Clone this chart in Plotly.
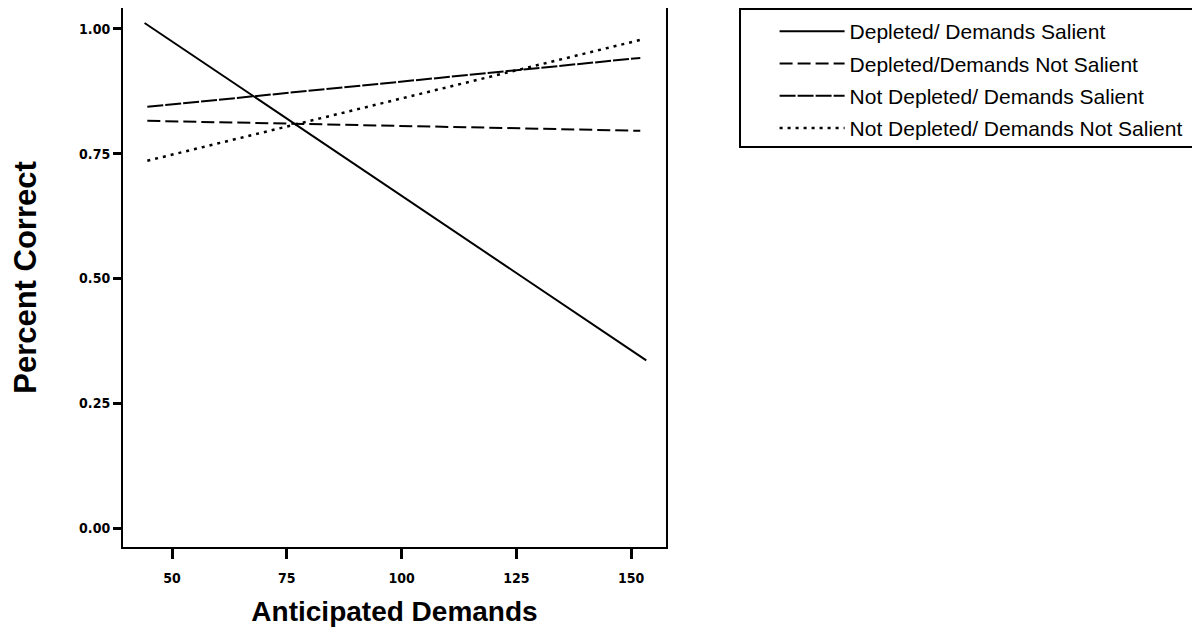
import plotly.graph_objects as go

# Data (fitted lines: endpoints)
series_names = [
    "Depleted/ Demands Salient",
    "Depleted/Demands Not Salient",
    "Not Depleted/ Demands Salient",
    "Not Depleted/ Demands Not Salient",
]
x_solid = [44.0, 153.3]
y_solid = [1.012, 0.336]
x_dep_ns = [44.6, 152.0]
y_dep_ns = [0.816, 0.796]
x_nd_s = [44.6, 152.0]
y_nd_s = [0.844, 0.942]
x_nd_ns = [44.6, 152.0]
y_nd_ns = [0.736, 0.978]

x_ticks = [50, 75, 100, 125, 150]
y_ticks = [0.00, 0.25, 0.50, 0.75, 1.00]
y_tick_labels = ["0.00", "0.25", "0.50", "0.75", "1.00"]

xs = [x_solid, x_dep_ns, x_nd_s, x_nd_ns]
ys = [y_solid, y_dep_ns, y_nd_s, y_nd_ns]
dashes = ["solid", "13px,5px", "16px,2px", "3px,5px"]
widths = [2, 2, 2, 2.5]

fig = go.Figure()
for i, (name, x, y, d, w) in enumerate(zip(series_names, xs, ys, dashes, widths)):
    fig.add_trace(go.Scatter(
        x=x, y=y, mode="lines", name=name, legendgroup=f"g{i}",
        line=dict(color="black", width=w, dash=d),
    ))

tick_font = dict(family="Liberation Sans Narrow, DejaVu Sans Condensed, Liberation Sans",
                 size=14, color="black", weight="bold")

# legend frame (drawn as a shape so the entries can sit inset like the original)
fig.add_shape(type="rect", xref="paper", yref="paper",
              x0=1.1363, x1=1.9779, y0=0.7421, y1=0.998,
              line=dict(color="black", width=2), fillcolor="rgba(0,0,0,0)")

fig.update_layout(
    width=1192, height=628,
    margin=dict(l=115, r=534, t=0, b=89, autoexpand=False),
    paper_bgcolor="white", plot_bgcolor="white",
    showlegend=True,
    legend=dict(
        x=1.2, y=0.9944, xanchor="left", yanchor="top",
        borderwidth=0, bgcolor="rgba(0,0,0,0)",
        font=dict(family="Liberation Sans, Arial", size=21, color="black"),
        tracegroupgap=2,
        itemwidth=65,
    ),
    xaxis=dict(
        range=[39.3, 157.6], tickvals=x_ticks, ticktext=[str(v) for v in x_ticks],
        showgrid=False, zeroline=False, showline=True, linecolor="black", linewidth=2,
        mirror=True, ticks="outside", ticklen=10, tickwidth=3, tickcolor="black",
        tickfont=tick_font, ticklabelstandoff=7,
        title=dict(text="Anticipated Demands",
                   font=dict(family="Liberation Sans, Arial", size=28, color="black", weight="bold"),
                   standoff=17),
    ),
    yaxis=dict(
        range=[-0.038, 1.042], tickvals=y_ticks, ticktext=y_tick_labels,
        showgrid=False, zeroline=False, showline=True, linecolor="black", linewidth=2,
        mirror=True, ticks="outside", ticklen=8, tickwidth=3, tickcolor="black",
        tickfont=tick_font,
        title=dict(text="Percent Correct",
                   font=dict(family="Liberation Sans, Arial", size=31, color="black", weight="bold"),
                   standoff=38),
    ),
)

fig.write_html("out.html")
